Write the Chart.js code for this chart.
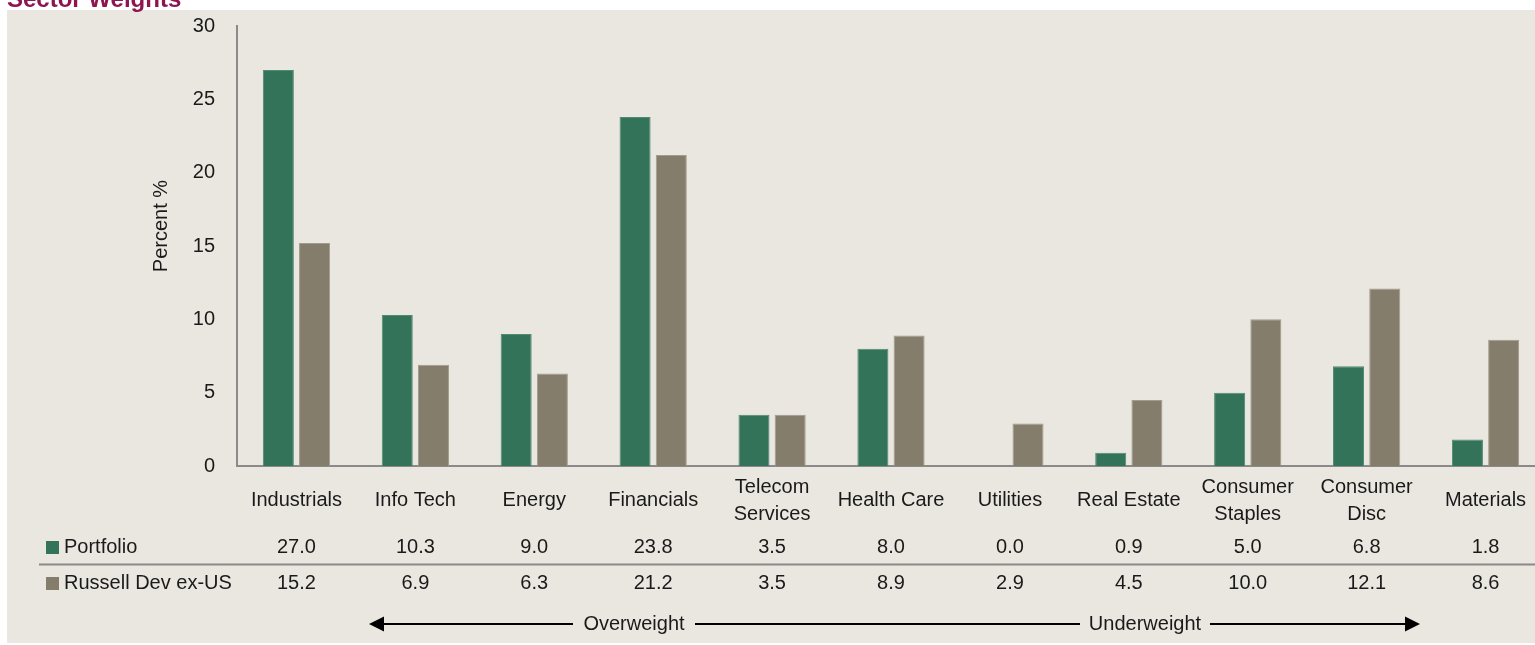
<!DOCTYPE html>
<html><head><meta charset="utf-8">
<script src="https://cdn.jsdelivr.net/npm/chart.js@4.4.1/dist/chart.umd.min.js"></script>
<style>
html,body{margin:0;padding:0;background:#fff;overflow:hidden;width:1535px;height:645px}
#wrap{position:relative;width:1535px;height:645px;overflow:hidden}
canvas{display:block}
</style></head>
<body><div id="wrap"><canvas id="c" width="1545" height="645"></canvas></div>
<script>
const categories = [["Industrials"],["Info Tech"],["Energy"],["Financials"],["Telecom","Services"],["Health Care"],["Utilities"],["Real Estate"],["Consumer","Staples"],["Consumer","Disc"],["Materials"]];
const seriesNames = ["Portfolio","Russell Dev ex-US"];
const portfolio = [27.0,10.3,9.0,23.8,3.5,8.0,0.0,0.9,5.0,6.8,1.8];
const russell = [15.2,6.9,6.3,21.2,3.5,8.9,2.9,4.5,10.0,12.1,8.6];
const yTicks = [0,5,10,15,20,25,30];
const chartTitle = "Sector Weights";
const yTitle = "Percent %";
const arrowLabels = ["Overweight","Underweight"];

const FONT = "'Liberation Sans',Arial,sans-serif";
const FS = 20;
const TXT = '#1a1a1a';
const GREEN = '#33735a', GREY = '#857d6c';
const W = 1545, H = 645;

const deco = {
  id: 'deco',
  beforeDraw(chart) {
    const ctx = chart.ctx;
    ctx.save();
    ctx.fillStyle = '#ffffff';
    ctx.fillRect(0, 0, W, H);
    ctx.fillStyle = '#eae7e0';
    ctx.fillRect(7, 10, W - 7, 633);
    ctx.fillStyle = '#8e1650';
    ctx.font = "bold 24px 'Liberation Sans',Arial,sans-serif";
    ctx.textBaseline = 'alphabetic';
    ctx.textAlign = 'left';
    ctx.fillText(chartTitle, 7, 7);
    ctx.restore();
  },
  afterDraw(chart) {
    const ctx = chart.ctx;
    const xs = chart.scales.x;
    ctx.save();
    ctx.fillStyle = TXT;
    ctx.font = FS + 'px ' + FONT;
    ctx.textAlign = 'center';
    ctx.textBaseline = 'middle';
    ctx.translate(161, 226);
    ctx.rotate(-Math.PI / 2);
    ctx.fillText(yTitle, 0, 0);
    ctx.restore();

    ctx.save();
    ctx.font = FS + 'px ' + FONT;
    ctx.fillStyle = TXT;
    ctx.textBaseline = 'middle';
    const rows = [[portfolio, GREEN, 547], [russell, GREY, 583]];
    rows.forEach(([vals, col, y], r) => {
      ctx.fillStyle = col;
      ctx.fillRect(46, y - 6, 13, 13);
      ctx.fillStyle = TXT;
      ctx.textAlign = 'left';
      ctx.fillText(seriesNames[r], 64, y);
      ctx.textAlign = 'center';
      vals.forEach((v, i) => ctx.fillText(v.toFixed(1), xs.getPixelForValue(i), y));
    });
    ctx.strokeStyle = '#8a8a8a';
    ctx.lineWidth = 2;
    ctx.beginPath();
    ctx.moveTo(39, 564.5);
    ctx.lineTo(W, 564.5);
    ctx.stroke();

    const ay = 624;
    ctx.strokeStyle = '#000';
    ctx.fillStyle = '#000';
    ctx.lineWidth = 2;
    ctx.beginPath();
    ctx.moveTo(382, ay); ctx.lineTo(573, ay);
    ctx.moveTo(695, ay); ctx.lineTo(1080, ay);
    ctx.moveTo(1210, ay); ctx.lineTo(1406, ay);
    ctx.stroke();
    ctx.beginPath();
    ctx.moveTo(369, ay); ctx.lineTo(384, ay - 7.5); ctx.lineTo(384, ay + 7.5); ctx.closePath(); ctx.fill();
    ctx.beginPath();
    ctx.moveTo(1420, ay); ctx.lineTo(1405, ay - 7.5); ctx.lineTo(1405, ay + 7.5); ctx.closePath(); ctx.fill();
    ctx.fillStyle = TXT;
    ctx.textAlign = 'center';
    ctx.fillText(arrowLabels[0], 634, ay);
    ctx.fillText(arrowLabels[1], 1145, ay);
    ctx.restore();
  }
};

new Chart(document.getElementById('c'), {
  type: 'bar',
  data: {
    labels: categories,
    datasets: [
      { label: seriesNames[0], data: portfolio, backgroundColor: GREEN, borderColor: '#4f8a71', borderWidth: 1,
        barPercentage: 0.857, categoryPercentage: 0.609 },
      { label: seriesNames[1], data: russell, backgroundColor: GREY, borderColor: '#a39b8b', borderWidth: 1,
        barPercentage: 0.857, categoryPercentage: 0.609 }
    ]
  },
  options: {
    responsive: false,
    devicePixelRatio: 1,
    animation: false,
    layout: { padding: { top: 4, left: 0, right: 0, bottom: 0 } },
    plugins: { legend: { display: false }, tooltip: { enabled: false }, title: { display: false } },
    scales: {
      x: {
        grid: { display: false },
        border: { display: true, color: '#8a8a8a', width: 2 },
        ticks: { color: TXT, font: { family: FONT, size: FS, lineHeight: 1.35 }, padding: 13, crossAlign: 'center', maxRotation: 0, autoSkip: false },
        afterFit(s) { s.height = H - 466; }
      },
      y: {
        min: 0, max: 30,
        afterBuildTicks(s) { s.ticks = yTicks.map(v => ({ value: v })); },
        grid: { display: false },
        border: { display: true, color: '#8a8a8a', width: 2 },
        ticks: { color: TXT, font: { family: FONT, size: FS }, padding: 14 },
        afterFit(s) { s.width = 237; }
      }
    }
  },
  plugins: [deco]
});
</script>
</body></html>
